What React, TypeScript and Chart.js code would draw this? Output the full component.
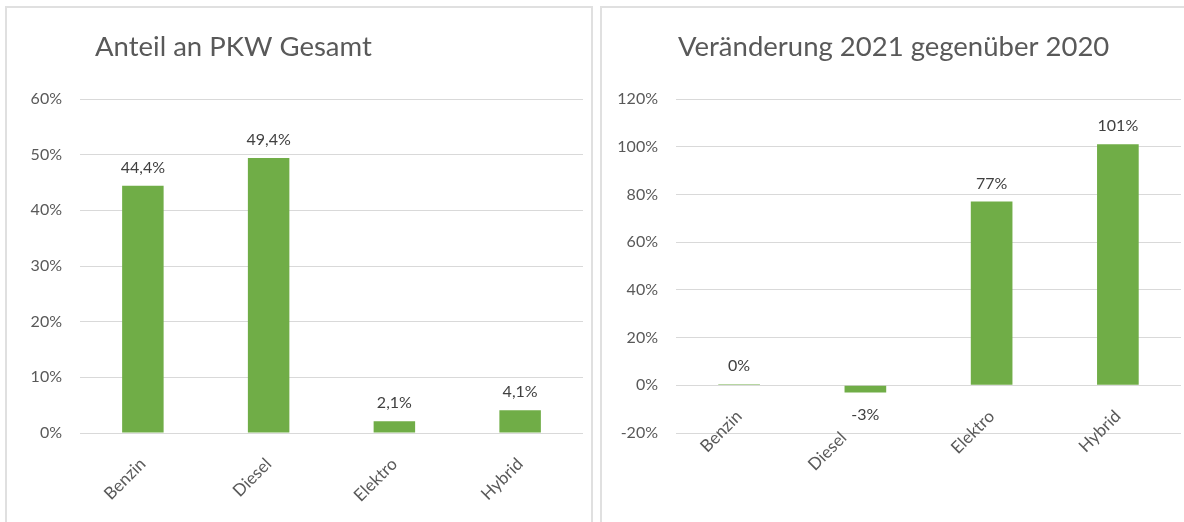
import React, { useEffect, useRef } from "react";
import { Chart, registerables } from "chart.js";

Chart.register(...registerables);

// ---- Data ----
const categories = ["Benzin", "Diesel", "Elektro", "Hybrid"];
const shareValues = [44.4, 49.4, 2.1, 4.1];
const changeValues = [0.4, -3, 77, 101];
const shareTicks = [0, 10, 20, 30, 40, 50, 60];
const changeTicks = [-20, 0, 20, 40, 60, 80, 100, 120];
const shareTitle = "Anteil an PKW Gesamt";
const changeTitle = "Veränderung 2021 gegenüber 2020";

// ---- Styles ----
const FONT = "Lato";
const BAR_COLOR = "#70AD47";
const GRID_COLOR = "#D9D9D9";
const TEXT_COLOR = "#595959";
const LABEL_COLOR = "#404040";

const formatShare = (v: number) => v.toFixed(1).replace(".", ",") + "%";
const formatChange = (v: number) => Math.round(v) + "%";

const valueLabelPlugin = {
  id: "valueLabels",
  afterDatasetsDraw(chart: any, _args: any, opts: any) {
    const ctx = chart.ctx;
    const meta = chart.getDatasetMeta(0);
    const data = chart.data.datasets[0].data as number[];
    ctx.save();
    ctx.font = `16px ${FONT}`;
    ctx.fillStyle = LABEL_COLOR;
    ctx.textAlign = "center";
    ctx.textBaseline = "alphabetic";
    meta.data.forEach((bar: any, i: number) => {
      const v = data[i];
      const { x, y } = bar.getProps(["x", "y"], true);
      const text = opts.format(v);
      if (v >= 0) ctx.fillText(text, x, y - 13);
      else ctx.fillText(text, x, y + 28);
    });
    ctx.restore();
  },
};

const panelTitlePlugin = {
  id: "panelTitle",
  afterDraw(chart: any, _args: any, opts: any) {
    const ctx = chart.ctx;
    ctx.save();
    ctx.font = `27.5px ${FONT}`;
    ctx.fillStyle = TEXT_COLOR;
    ctx.textAlign = "left";
    ctx.textBaseline = "alphabetic";
    ctx.fillText(opts.text, opts.x, opts.y);
    ctx.restore();
  },
};

type PanelProps = {
  title: string;
  values: number[];
  ticks: number[];
  format: (v: number) => string;
  left: number;
  width: number;
  titleX: number;
  axisWidth: number;
  padRight: number;
};

function BarPanel(p: PanelProps) {
  const ref = useRef<HTMLCanvasElement | null>(null);
  useEffect(() => {
    if (!ref.current) return;
    const chart = new Chart(ref.current, {
      type: "bar",
      data: {
        labels: categories,
        datasets: [
          {
            data: p.values,
            backgroundColor: BAR_COLOR,
            borderWidth: 0,
            barPercentage: 0.33,
            categoryPercentage: 1,
          },
        ],
      },
      plugins: [valueLabelPlugin, panelTitlePlugin],
      options: {
        animation: false,
        responsive: false,
        devicePixelRatio: 1,
        layout: { padding: { left: 0, right: p.padRight, top: 91, bottom: 89 } },
        plugins: {
          legend: { display: false },
          tooltip: { enabled: false },
          title: { display: false },
          valueLabels: { format: p.format },
          panelTitle: { text: p.title, x: p.titleX, y: 48 },
        } as any,
        scales: {
          x: {
            position: { y: 0 } as any,
            grid: { display: false, drawTicks: false },
            border: { display: false },
            ticks: {
              autoSkip: false,
              minRotation: 45,
              maxRotation: 45,
              padding: 21,
              color: TEXT_COLOR,
              font: { family: FONT, size: 17 },
              // a negative bar pushes its category label away from the value label
              callback: (_v: any, i: number) =>
                p.values[i] < 0 ? categories[i] + "       " : categories[i],
            },
          },
          y: {
            min: p.ticks[0],
            max: p.ticks[p.ticks.length - 1],
            afterFit: (scale: any) => {
              scale.width = p.axisWidth;
            },
            grid: { color: GRID_COLOR, lineWidth: 1, drawTicks: false },
            border: { display: false },
            ticks: {
              stepSize: p.ticks[1] - p.ticks[0],
              padding: 18,
              color: TEXT_COLOR,
              font: { family: FONT, size: 16 },
              callback: (v: any) => v + "%",
            },
          },
        },
      },
    });
    return () => chart.destroy();
  }, []);
  return (
    <canvas
      ref={ref}
      width={p.width}
      height={514}
      style={{ position: "absolute", left: p.left, top: 8, width: p.width, height: 514 }}
    />
  );
}

export default function App() {
  return (
    <div
      style={{
        position: "fixed",
        left: 0,
        top: 0,
        width: 1184,
        height: 522,
        background: "#fff",
        overflow: "hidden",
      }}
    >
      <div
        style={{
          position: "absolute",
          left: 5,
          top: 6,
          width: 588,
          height: 540,
          border: `2px solid #E0E0E0`,
          boxSizing: "border-box",
        }}
      />
      <div
        style={{
          position: "absolute",
          left: 600,
          top: 6,
          width: 600,
          height: 540,
          border: `2px solid #E0E0E0`,
          boxSizing: "border-box",
        }}
      />
      <BarPanel
        title={shareTitle}
        values={shareValues}
        ticks={shareTicks}
        format={formatShare}
        left={8}
        width={582}
        titleX={87}
        axisWidth={72}
        padRight={7}
      />
      <BarPanel
        title={changeTitle}
        values={changeValues}
        ticks={changeTicks}
        format={formatChange}
        left={603}
        width={581}
        titleX={75}
        axisWidth={73}
        padRight={3}
      />
    </div>
  );
}
